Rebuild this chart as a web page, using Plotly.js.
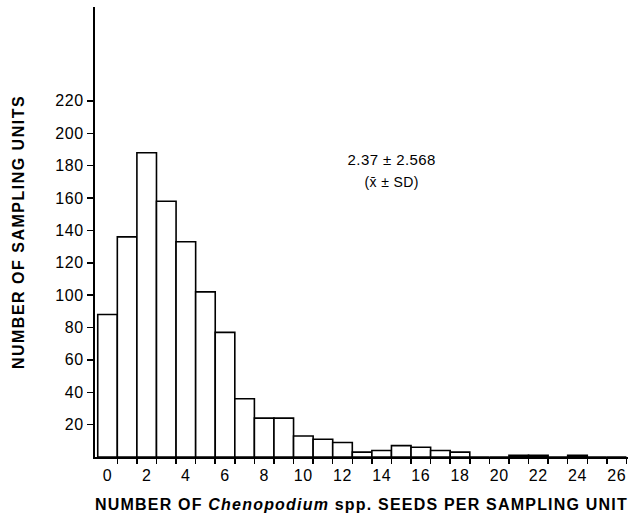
<!DOCTYPE html>
<html>
<head>
<meta charset="utf-8">
<script src="https://cdn.plot.ly/plotly-3.0.1.min.js"></script>
<style>
html, body { margin: 0; padding: 0; background: #fff; }
#chart { width: 637px; height: 520px; }
#chart .g-xtitle text { letter-spacing: 1.2px; }
#chart .g-ytitle text { letter-spacing: 1.5px; }
#chart .xtick text, #chart .ytick text { letter-spacing: 0.6px; }
#chart .annotation-text { letter-spacing: 0.4px; }
</style>
</head>
<body>
<div id="chart"></div>
<script>
// Seeds per sampling unit (categories)
const seedCounts = [0,1,2,3,4,5,6,7,8,9,10,11,12,13,14,15,16,17,18,19,20,21,22,23,24,25,26];
// Number of sampling units for each seed count
const samplingUnits = [88,136,188,158,133,102,77,36,24,24,13,11,9,3,4,7,6,4,3,0,0,1,1,0,1,0,0];
// Axis tick labels
const xTickValues = [0,2,4,6,8,10,12,14,16,18,20,22,24,26];
const xTickEdges = [0.5,1.5,2.5,3.5,4.5,5.5,6.5,7.5,8.5,9.5,10.5,11.5,12.5,13.5,14.5,15.5,16.5,17.5,18.5,19.5,20.5,21.5,22.5,23.5,24.5,25.5,26.5];
const yTickValues = [20,40,60,80,100,120,140,160,180,200,220];
// Summary statistic text
const statLine1 = '2.37 \u00B1 2.568';
const statLine2 = '(x\u0304 \u00B1 SD)';
const statPosition = {x: 14.5, line1: 184, line2: 170};

const FONT = '"Liberation Sans", Arial, Helvetica, sans-serif';

const trace = {
  type: 'bar',
  x: seedCounts,
  y: samplingUnits,
  width: 1,
  marker: {color: '#ffffff', line: {color: '#000000', width: 1.6}},
  hoverinfo: 'x+y',
  showlegend: false
};

const layout = {
  width: 637,
  height: 520,
  margin: {l: 95, r: 9, t: 7, b: 63, pad: 0},
  paper_bgcolor: '#ffffff',
  plot_bgcolor: '#ffffff',
  font: {family: FONT, color: '#000000', size: 14},
  bargap: 0,
  showlegend: false,
  xaxis: {
    range: [-0.64, 26.58],
    showgrid: false,
    zeroline: false,
    showline: true,
    linecolor: '#000000',
    linewidth: 2,
    tickmode: 'array',
    tickvals: xTickValues,
    ticktext: xTickValues.map(String),
    ticks: 'outside',
    ticklen: 3,
    tickcolor: 'rgba(0,0,0,0)',
    tickfont: {family: FONT, size: 16, color: '#000000'},
    minor: {
      tickmode: 'array',
      tickvals: xTickEdges,
      ticks: 'outside',
      ticklen: 5,
      tickwidth: 1.5,
      tickcolor: '#000000',
      showgrid: false
    },
    title: {
      text: '<b>NUMBER OF <i>Chenopodium</i> spp. SEEDS PER SAMPLING UNIT</b>',
      font: {family: FONT, size: 16, color: '#000000'},
      standoff: 16
    },
    fixedrange: true
  },
  yaxis: {
    range: [0, 278],
    showgrid: false,
    zeroline: false,
    showline: true,
    linecolor: '#000000',
    linewidth: 2,
    tickmode: 'array',
    tickvals: yTickValues,
    ticks: 'outside',
    ticklen: 6,
    tickwidth: 1.5,
    tickcolor: '#000000',
    tickfont: {family: FONT, size: 16, color: '#000000'},
    title: {
      text: '<b>NUMBER OF SAMPLING UNITS</b>',
      font: {family: FONT, size: 16, color: '#000000'},
      standoff: 28
    },
    fixedrange: true
  },
  annotations: [
    {x: statPosition.x, y: statPosition.line1, xref: 'x', yref: 'y', text: statLine1,
     showarrow: false, font: {family: FONT, size: 15, color: '#000000'}, xanchor: 'center', yanchor: 'middle'},
    {x: statPosition.x, y: statPosition.line2, xref: 'x', yref: 'y', text: statLine2,
     showarrow: false, font: {family: FONT, size: 14, color: '#000000'}, xanchor: 'center', yanchor: 'middle'}
  ]
};

Plotly.newPlot('chart', [trace], layout, {displayModeBar: false, staticPlot: true});
</script>
</body>
</html>
